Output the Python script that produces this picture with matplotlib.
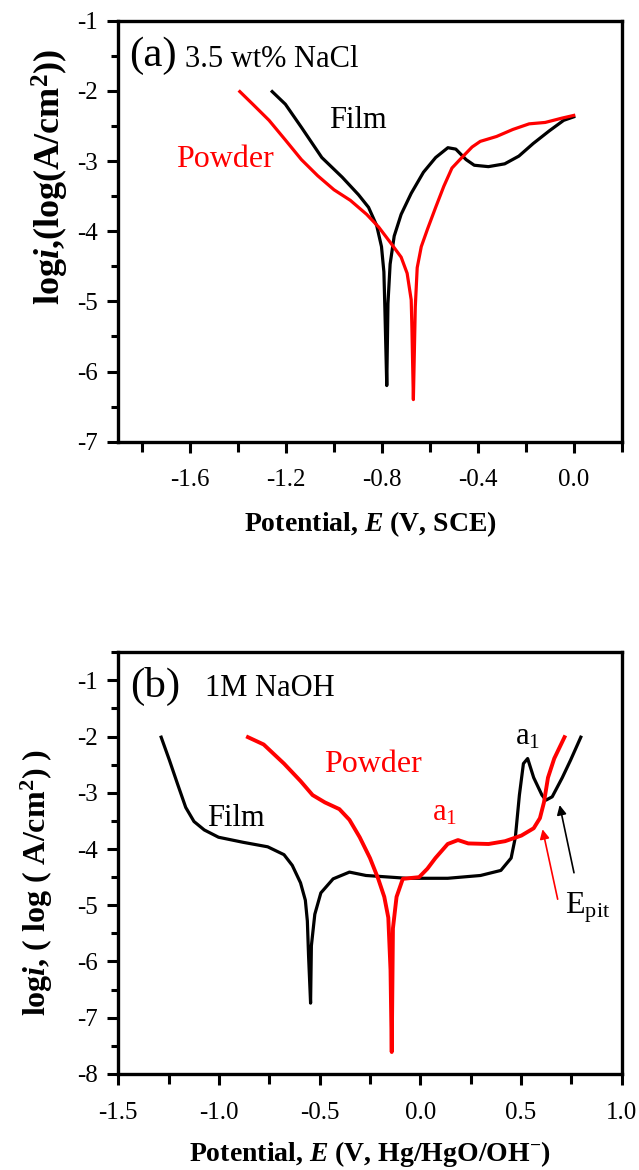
import numpy as np
import matplotlib
matplotlib.use('Agg')
import matplotlib.pyplot as plt
from matplotlib.ticker import MultipleLocator, FuncFormatter

plt.rcParams['font.family'] = 'Liberation Serif'
plt.rcParams['axes.unicode_minus'] = False
plt.rcParams['mathtext.fontset'] = 'custom'
plt.rcParams['mathtext.rm'] = 'Liberation Serif'
plt.rcParams['mathtext.it'] = 'Liberation Serif:italic'
plt.rcParams['mathtext.bf'] = 'Liberation Serif:bold'
plt.rcParams['mathtext.bfit'] = 'Liberation Serif:bold:italic'

# (a) 3.5 wt% NaCl, potential vs SCE
film_a_E = [-1.258, -1.203, -1.136, -1.051, -0.966, -0.898, -0.856, -0.822, -0.802, -0.792,
            -0.788, -0.780, -0.775, -0.766, -0.749, -0.720, -0.678, -0.627, -0.576, -0.525,
            -0.492, -0.449, -0.415, -0.356, -0.288, -0.229, -0.169, -0.102, -0.042, 0.0]
film_a_logi = [-2.01, -2.19, -2.52, -2.95, -3.23, -3.48, -3.66, -3.92, -4.22, -4.58,
               -5.08, -6.20, -5.03, -4.47, -4.07, -3.76, -3.46, -3.16, -2.95, -2.81,
               -2.83, -2.98, -3.06, -3.08, -3.04, -2.93, -2.75, -2.57, -2.42, -2.37]

powder_a_E = [-1.393, -1.339, -1.271, -1.203, -1.136, -1.068, -1.000, -0.932, -0.864, -0.814,
              -0.763, -0.720, -0.695, -0.678, -0.675, -0.669, -0.661, -0.653, -0.636, -0.610,
              -0.576, -0.542, -0.508, -0.475, -0.424, -0.390, -0.322, -0.254, -0.186, -0.119,
              -0.051, 0.0]
powder_a_logi = [-2.01, -2.19, -2.42, -2.70, -2.98, -3.21, -3.41, -3.56, -3.76, -3.94,
                 -4.17, -4.37, -4.60, -4.98, -5.39, -6.40, -5.08, -4.52, -4.22, -3.97,
                 -3.66, -3.36, -3.10, -2.98, -2.80, -2.72, -2.65, -2.55, -2.47, -2.45,
                 -2.39, -2.35]

# (b) 1M NaOH, potential vs Hg/HgO/OH-
film_b_E = [-1.287, -1.246, -1.205, -1.165, -1.124, -1.073, -1.002, -0.880, -0.758, -0.677,
            -0.636, -0.595, -0.571, -0.561, -0.555, -0.545, -0.541, -0.524, -0.494, -0.433,
            -0.352, -0.270, -0.067, 0.136, 0.299, 0.400, 0.451, 0.472, 0.492, 0.512,
            0.533, 0.563, 0.604, 0.624, 0.655, 0.705, 0.746, 0.797]
film_b_logi = [-2.01, -2.42, -2.85, -3.26, -3.51, -3.66, -3.79, -3.88, -3.96, -4.10,
               -4.29, -4.60, -4.91, -5.28, -5.90, -6.74, -5.72, -5.16, -4.78, -4.53,
               -4.41, -4.47, -4.52, -4.52, -4.47, -4.38, -4.16, -3.79, -3.04, -2.48,
               -2.39, -2.73, -3.04, -3.13, -3.07, -2.73, -2.42, -2.01]

powder_b_E = [-0.856, -0.778, -0.677, -0.595, -0.535, -0.474, -0.402, -0.352, -0.301, -0.250,
              -0.209, -0.179, -0.159, -0.148, -0.142, -0.136, -0.118, -0.087, -0.006, 0.035,
              0.075, 0.136, 0.187, 0.238, 0.339, 0.421, 0.502, 0.563, 0.594, 0.614,
              0.634, 0.665, 0.716]
powder_b_logi = [-2.01, -2.14, -2.48, -2.79, -3.04, -3.17, -3.29, -3.48, -3.79, -4.16,
                 -4.53, -4.85, -5.22, -6.15, -7.61, -5.41, -4.85, -4.53, -4.50, -4.35,
                 -4.16, -3.91, -3.84, -3.90, -3.91, -3.86, -3.76, -3.63, -3.45, -3.17,
                 -2.73, -2.39, -2.01]

RED = '#ff0000'

fig = plt.figure(figsize=(6.39, 11.7), dpi=100)
ax1 = fig.add_axes([0.1851, 0.6225, 0.7878, 0.3598])
ax2 = fig.add_axes([0.1851, 0.0821, 0.7878, 0.3604])


def style_axes(ax):
    for sp in ax.spines.values():
        sp.set_linewidth(2.4)
    ax.tick_params(which='major', direction='out', length=8, width=2.2, labelsize=18, pad=7)
    ax.tick_params(which='minor', direction='out', length=5, width=2.2)
    ax.tick_params(axis='x', which='minor', length=7)
    ax.tick_params(axis='x', which='major', pad=12)
    ax.xaxis.set_major_formatter(FuncFormatter(lambda v, p: '%.1f' % v))


# ---- panel (a)
ax1.plot(film_a_E, film_a_logi, color='black', lw=2.3)
ax1.plot(powder_a_E, powder_a_logi, color=RED, lw=2.3)
ax1.set_xlim(-1.9, 0.2)
ax1.set_ylim(-7, -1)
ax1.xaxis.set_major_locator(MultipleLocator(0.4))
ax1.xaxis.set_minor_locator(MultipleLocator(0.2))
ax1.yaxis.set_major_locator(MultipleLocator(1))
ax1.yaxis.set_minor_locator(MultipleLocator(0.5))
style_axes(ax1)
ax1.set_xlabel(r'Potential, $\mathbfit{E}$ (V, SCE)', fontsize=20, fontweight='bold', va='center')
ax1.xaxis.set_label_coords(0.5, -0.197)
ax1.set_ylabel(r'log$\mathbfit{i}$,(log(A/cm$^{\mathbf{2}}$))', fontsize=26, fontweight='bold',
               va='center')
ax1.yaxis.set_label_coords(-0.134, 0.628)
ax1.text(-1.855, -1.50, '(a)', fontsize=31, va='center')
ax1.text(-1.62, -1.56, '3.5 wt% NaCl', fontsize=22, va='center')
ax1.text(-1.02, -2.42, 'Film', fontsize=22, va='center', color='black')
ax1.text(-1.66, -2.98, 'Powder', fontsize=23, va='center', color=RED)

# ---- panel (b)
ax2.plot(film_b_E, film_b_logi, color='black', lw=2.3)
ax2.plot(powder_b_E, powder_b_logi, color=RED, lw=2.8)
ax2.set_xlim(-1.5, 1.0)
ax2.set_ylim(-8, -0.5)
ax2.xaxis.set_major_locator(MultipleLocator(0.5))
ax2.xaxis.set_minor_locator(MultipleLocator(0.25))
ax2.yaxis.set_major_locator(MultipleLocator(1))
ax2.yaxis.set_minor_locator(MultipleLocator(0.5))
style_axes(ax2)
ax2.set_xlabel(r'Potential, $\mathbfit{E}$ (V, Hg/HgO/OH$^{\mathbf{-}}$)', fontsize=20,
               fontweight='bold', va='center')
ax2.xaxis.set_label_coords(0.5, -0.19)
ax2.set_ylabel(r'log$\mathbfit{i}$, ( log ( A/cm$^{\mathbf{2}}$) )', fontsize=23,
               fontweight='bold', va='center')
ax2.yaxis.set_label_coords(-0.162, 0.455)
ax2.text(-1.44, -1.10, '(b)', fontsize=31, va='center')
ax2.text(-1.07, -1.15, '1M NaOH', fontsize=22, va='center')
ax2.text(0.47, -2.0, r'a$_1$', fontsize=22, va='center', color='black')
ax2.text(-0.48, -2.5, 'Powder', fontsize=23, va='center', color=RED)
ax2.text(-1.06, -3.45, 'Film', fontsize=22, va='center', color='black')
ax2.text(0.06, -3.35, r'a$_1$', fontsize=22, va='center', color=RED)
ax2.text(0.72, -5.05, r'E$_\mathrm{pit}$', fontsize=23, va='center', color='black')
ax2.annotate('', xy=(0.604, -3.60), xytext=(0.685, -4.94),
             arrowprops=dict(arrowstyle='-|>', color=RED, lw=1.2, mutation_scale=14))
ax2.annotate('', xy=(0.689, -3.17), xytext=(0.766, -4.47),
             arrowprops=dict(arrowstyle='-|>', color='black', lw=1.2, mutation_scale=14))

fig.savefig('out.png', dpi=100)
